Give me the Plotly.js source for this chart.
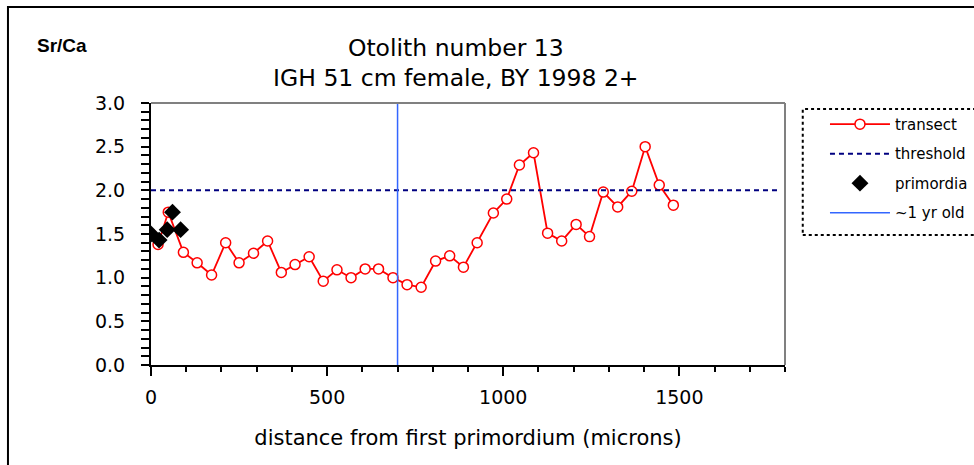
<!DOCTYPE html>
<html>
<head>
<meta charset="utf-8">
<script src="https://cdn.plot.ly/plotly-3.0.1.min.js"></script>
<style>
  html, body { margin: 0; padding: 0; background: #fff; }
  #chart { width: 974px; height: 465px; }
</style>
</head>
<body>
<div id="chart"></div>
<script>
  // transect readings (distance in microns, Sr/Ca)
  var transectX = [0, 20, 49, 92, 131, 172, 212, 250, 291, 331, 370, 409, 449, 489, 528, 568, 608, 646, 687,
                   727, 767, 808, 848, 887, 926, 972, 1010, 1046, 1086, 1126, 1166, 1207, 1245, 1284, 1325,
                   1365, 1403, 1443, 1483];
  var transectY = [1.50, 1.38, 1.75, 1.29, 1.17, 1.03, 1.40, 1.17, 1.28, 1.42, 1.06, 1.15, 1.24, 0.96, 1.09,
                   1.00, 1.10, 1.10, 1.00, 0.92, 0.89, 1.19, 1.25, 1.12, 1.40, 1.74, 1.90, 2.29, 2.43, 1.51,
                   1.42, 1.61, 1.47, 1.98, 1.81, 1.99, 2.50, 2.06, 1.83];

  // primordia
  var primX = [0, 23, 46, 61, 84];
  var primY = [1.50, 1.43, 1.55, 1.75, 1.55];

  // threshold level and ~1 yr old mark
  var thresholdX = [0, 1780];
  var thresholdY = [2.0, 2.0];
  var yearX = [700, 700];
  var yearY = [0, 3];

  var xTicks = [0, 500, 1000, 1500];
  var yTicks = [0, 0.5, 1, 1.5, 2, 2.5, 3];

  var font = "DejaVu Sans, Verdana, sans-serif";

  // Define Data
  const chartdata = [
    {
      x: transectX, y: transectY, mode: "lines+markers", name: "transect",
      legendgroup: "a",
      line: { color: "#ff0000", width: 1.8 },
      marker: { symbol: "circle", size: 10, color: "#ffffff", line: { color: "#ff0000", width: 1.5 } }
    },
    {
      x: thresholdX, y: thresholdY, mode: "lines", name: "threshold",
      legendgroup: "b",
      line: { color: "#000080", width: 2, dash: "5px,4px" }
    },
    {
      x: primX, y: primY, mode: "markers", name: "primordia",
      legendgroup: "c",
      marker: { symbol: "diamond", size: 13, color: "#000000" }
    },
    {
      x: yearX, y: yearY, mode: "lines", name: "~1 yr old",
      legendgroup: "d",
      line: { color: "#3366ff", width: 1.5 }
    }
  ];

  // Define Layout
  const layout = {
    width: 974, height: 465,
    margin: { l: 151, r: 189, t: 103, b: 100, autoexpand: false },
    paper_bgcolor: "#ffffff", plot_bgcolor: "#ffffff",
    font: { family: font, color: "#000000", size: 18 },
    title: {
      text: "Otolith number 13<br>IGH 51 cm female, BY 1998 2+",
      font: { family: font, size: 23.5, color: "#000000" },
      x: 0.468, xanchor: "center", xref: "container",
      y: 0.88, yanchor: "middle", yref: "container"
    },
    showlegend: true,
    legend: {
      xref: "container", yref: "container",
      x: 0.847, xanchor: "left", y: 0.768, yanchor: "top",
      itemwidth: 60,
      traceorder: "grouped", tracegroupgap: 7,
      bgcolor: "rgba(0,0,0,0)", borderwidth: 0,
      font: { family: font, size: 15, color: "#000000" }
    },
    xaxis: {
      range: [0, 1800], tickvals: xTicks, ticktext: xTicks.map(String),
      showgrid: false, zeroline: false,
      showline: true, linecolor: "#000000", linewidth: 2,
      ticks: "outside", ticklen: 9, tickwidth: 1.5, tickcolor: "#000000",
      minor: { dtick: 100, ticks: "outside", ticklen: 5, tickwidth: 1.5, tickcolor: "#000000" },
      ticklabelstandoff: 5,
      tickfont: { family: font, size: 19 },
      title: { text: "distance from first primordium (microns)", font: { family: font, size: 21 }, standoff: 24 }
    },
    yaxis: {
      range: [0, 3], tickvals: yTicks, tickformat: ".1f",
      showgrid: false, zeroline: false,
      showline: true, linecolor: "#000000", linewidth: 2,
      ticks: "outside", ticklen: 8, tickwidth: 1.5, tickcolor: "#000000",
      minor: { dtick: 0.1, ticks: "outside", ticklen: 8, tickwidth: 1.5, tickcolor: "#000000" },
      ticklabelstandoff: 12,
      tickfont: { family: font, size: 19 }
    },
    annotations: [
      { text: "<b>Sr/Ca</b>", xref: "paper", yref: "paper", x: -0.183, y: 1.221,
        xanchor: "left", yanchor: "middle", showarrow: false,
        font: { family: "Liberation Sans, Arial, sans-serif", size: 19, color: "#000000" } }
    ],
    shapes: [
      // grey frame on top and right of the plot
      { type: "line", xref: "paper", yref: "paper", x0: 0, x1: 1, y0: 1, y1: 1,
        line: { color: "#808080", width: 2 } },
      { type: "line", xref: "paper", yref: "paper", x0: 1, x1: 1, y0: 0, y1: 1,
        line: { color: "#808080", width: 2 } },
      // dotted legend box
      { type: "rect", xref: "paper", yref: "paper", x0: 1.028, x1: 1.6, y0: 0.496, y1: 0.977,
        line: { color: "#000000", width: 2, dash: "dot" } },
      // chart border
      { type: "rect", xref: "paper", yref: "paper", x0: -0.2256, x1: 1.6, y0: -0.6, y1: 1.366,
        line: { color: "#000000", width: 2 } }
    ]
  };

  // Define Config
  const config = { displayModeBar: false, responsive: false };

  Plotly.newPlot("chart", chartdata, layout, config);
</script>
</body>
</html>
